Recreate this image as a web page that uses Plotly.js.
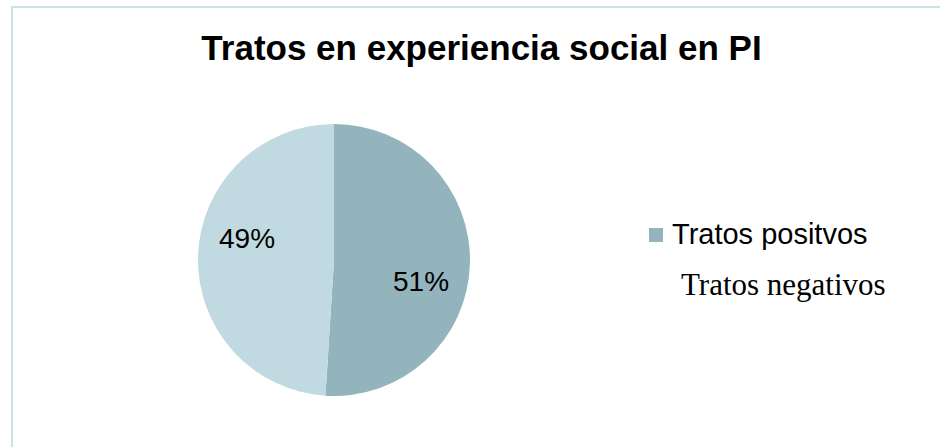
<!DOCTYPE html>
<html>
<head>
<meta charset="utf-8">
<script src="https://cdn.plot.ly/plotly-3.0.1.min.js"></script>
<style>
  html, body { margin: 0; padding: 0; background: #ffffff; }
  #chart { width: 940px; height: 447px; }
</style>
</head>
<body>
<div id="chart"></div>
<script>
const chartTitle = 'Tratos en experiencia social en PI';
const labels = ['Tratos positvos', 'Tratos negativos'];
const values = [51, 49];
const sliceColors = ['#94B4BD', '#C1D9E0'];
const legendFonts = ['Liberation Sans, Arial, sans-serif', 'Liberation Serif, Times New Roman, serif'];
const legendSizes = [29, 31];

const W = 940, H = 447;
const px = v => v / W;
const py = v => 1 - v / H;

// pie geometry (pixels)
const cx = 334, cy = 260, R = 136;

const trace = {
  type: 'pie',
  labels: labels,
  values: values,
  sort: false,
  direction: 'clockwise',
  rotation: 0,
  marker: { colors: sliceColors, line: { color: '#ffffff', width: 0 } },
  textinfo: 'none',
  domain: { x: [px(cx - R), px(cx + R)], y: [py(cy + R), py(cy - R)] },
  showlegend: false,
  hoverinfo: 'label+percent'
};

// percent labels computed from the data (angle of each slice)
const total = values.reduce((a, b) => a + b, 0);
let cum = 0;
const pctAnnotations = values.map(v => {
  const mid = (cum + v / 2) / total * 360 + 12;
  cum += v;
  const a = mid * Math.PI / 180;
  const r = 0.66 * R;
  return {
    xref: 'paper', yref: 'paper',
    x: px(cx + r * Math.sin(a)), y: py(cy - r * Math.cos(a)),
    xanchor: 'center', yanchor: 'middle',
    text: Math.round(v / total * 100) + '%',
    showarrow: false,
    font: { family: 'Liberation Sans, Arial, sans-serif', size: 28, color: '#000000' }
  };
});

const legendAnnotations = labels.map((lab, i) => ({
  xref: 'paper', yref: 'paper',
  x: px(i === 0 ? 670 : 679),
  y: py(i === 0 ? 234 : 284),
  xanchor: 'left', yanchor: 'middle',
  text: lab,
  showarrow: false,
  font: { family: legendFonts[i], size: legendSizes[i], color: '#000000' }
}));

const shapes = [
  { type: 'rect', xref: 'paper', yref: 'paper',
    x0: px(12), x1: 1.2, y0: -0.2, y1: py(7),
    line: { color: '#CDE1E9', width: 2 }, fillcolor: 'rgba(0,0,0,0)' },
  { type: 'rect', xref: 'paper', yref: 'paper',
    x0: px(649), x1: px(663), y0: py(242), y1: py(228),
    line: { width: 0 }, fillcolor: sliceColors[0] }
];

const layout = {
  width: W, height: H,
  margin: { l: 0, r: 0, t: 0, b: 0 },
  paper_bgcolor: '#ffffff',
  plot_bgcolor: '#ffffff',
  title: {
    text: '<b>' + chartTitle + '</b>',
    x: px(481.5), xanchor: 'center', xref: 'paper',
    y: py(47.5), yanchor: 'middle', yref: 'container',
    font: { family: 'Liberation Sans, Arial, sans-serif', size: 35, color: '#000000' }
  },
  annotations: pctAnnotations.concat(legendAnnotations),
  shapes: shapes,
  showlegend: false
};

Plotly.newPlot('chart', [trace], layout, { displayModeBar: false, staticPlot: true });
</script>
</body>
</html>
